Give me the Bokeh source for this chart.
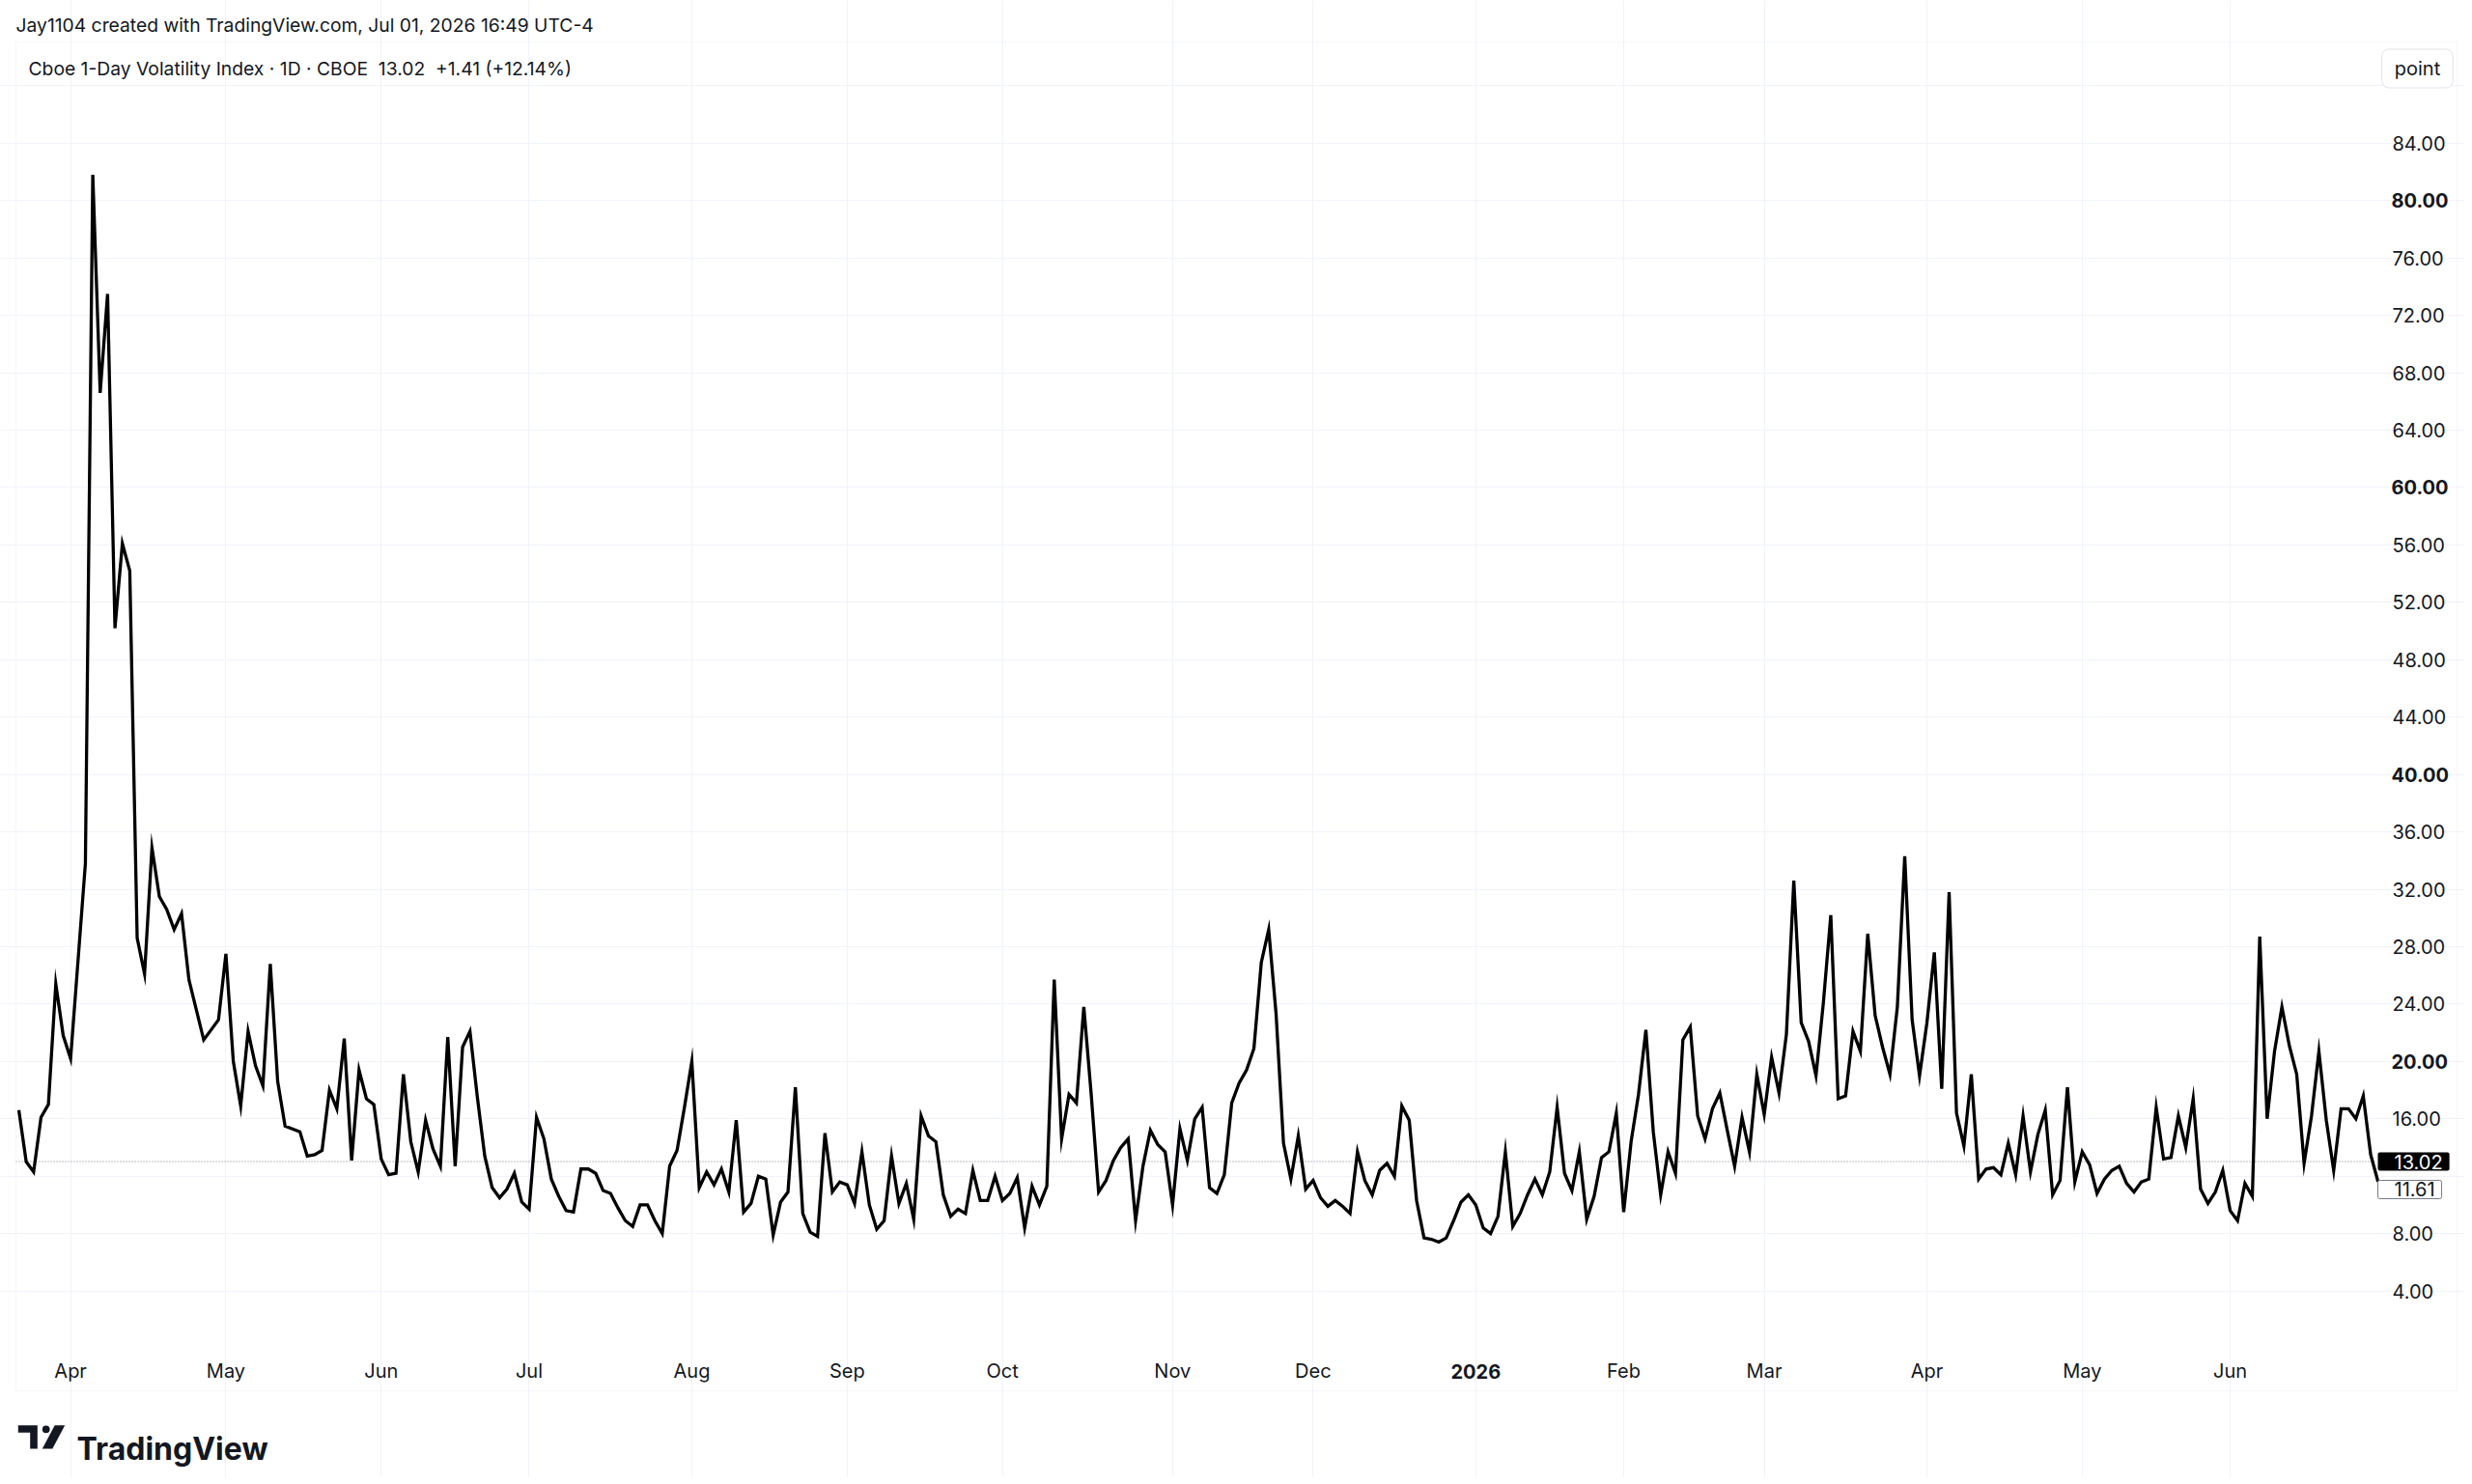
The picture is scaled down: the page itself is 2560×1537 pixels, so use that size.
from bokeh.plotting import figure
from bokeh.models import Range1d, FixedTicker, Label, BoxAnnotation, PolyAnnotation
from bokeh.embed import file_html
from bokeh.resources import INLINE

# ---- data ----
values = [
    16.6, 13.0, 12.3, 16.1, 17.0, 25.4, 21.8, 20.2, 27.0, 33.8,
    81.8, 66.6, 73.5, 50.2, 56.1, 54.2, 28.6, 26.1, 34.9, 31.5,
    30.6, 29.2, 30.3, 25.7, 23.6, 21.5, 22.2, 22.9, 27.5, 20.0,
    16.9, 22.1, 19.7, 18.3, 26.8, 18.6, 15.5, 15.3, 15.1, 13.4,
    13.5, 13.8, 18.0, 16.7, 21.6, 13.1, 19.4, 17.4, 17.0, 13.2,
    12.1, 12.2, 19.1, 14.4, 12.3, 15.9, 13.9, 12.7, 21.7, 12.7,
    21.0, 22.1, 17.5, 13.4, 11.2, 10.5, 11.1, 12.2, 10.2, 9.7,
    16.1, 14.6, 11.8, 10.6, 9.6, 9.5, 12.5, 12.5, 12.2, 11.0,
    10.8, 9.8, 8.9, 8.5, 10.0, 10.0, 8.9, 8.0, 12.7, 13.8,
    16.8, 20.0, 11.2, 12.3, 11.4, 12.5, 10.9, 15.9, 9.5, 10.1,
    12.0, 11.8, 7.9, 10.2, 10.9, 18.2, 9.4, 8.1, 7.8, 15.0,
    10.9, 11.6, 11.4, 10.1, 13.7, 10.0, 8.3, 8.9, 13.4, 10.1,
    11.5, 9.0, 16.2, 14.8, 14.4, 10.7, 9.2, 9.7, 9.4, 12.4,
    10.3, 10.3, 12.0, 10.3, 10.8, 11.9, 8.4, 11.3, 10.0, 11.3,
    25.7, 14.6, 17.7, 17.1, 23.8, 17.7, 10.9, 11.7, 13.1, 14.0,
    14.6, 8.9, 12.7, 15.2, 14.2, 13.7, 10.0, 15.3, 13.1, 16.0,
    16.8, 11.2, 10.8, 12.1, 17.1, 18.5, 19.4, 20.9, 26.9, 29.2,
    23.3, 14.3, 11.8, 14.8, 11.1, 11.7, 10.5, 9.9, 10.3, 9.9,
    9.4, 13.7, 11.7, 10.7, 12.4, 12.9, 12.0, 16.9, 15.9, 10.3,
    7.7, 7.6, 7.4, 7.7, 8.9, 10.2, 10.7, 10.0, 8.4, 8.0,
    9.2, 13.7, 8.5, 9.4, 10.7, 11.8, 10.7, 12.3, 16.8, 12.2,
    11.0, 13.7, 9.0, 10.6, 13.3, 13.7, 16.4, 9.5, 14.4, 17.7,
    22.2, 15.1, 10.7, 13.7, 12.2, 21.5, 22.4, 16.2, 14.6, 16.7,
    17.8, 15.2, 12.7, 16.1, 13.7, 19.1, 16.3, 20.3, 17.8, 21.9,
    32.6, 22.7, 21.4, 19.0, 24.1, 30.2, 17.4, 17.6, 22.1, 20.7,
    28.9, 23.2, 21.0, 19.1, 23.8, 34.3, 22.9, 19.0, 22.7, 27.6,
    18.1, 31.8, 16.4, 14.1, 19.1, 11.8, 12.5, 12.6, 12.1, 14.3,
    12.1, 16.2, 12.3, 14.9, 16.6, 10.7, 11.7, 18.2, 11.6, 13.7,
    12.8, 10.8, 11.8, 12.4, 12.7, 11.5, 10.9, 11.6, 11.8, 16.8,
    13.2, 13.3, 16.2, 14.0, 17.4, 11.1, 10.1, 10.9, 12.4, 9.6,
    8.9, 11.5, 10.6, 28.7, 16.0, 20.7, 23.8, 21.1, 19.1, 12.9,
    16.2, 20.7, 15.9, 12.4, 16.7, 16.7, 16.0, 17.6, 13.5, 11.61,
]
bar_index = list(range(len(values)))

month_ticks = [7, 28, 49, 69, 91, 112, 133, 156, 175, 197, 217, 236, 258, 279, 299]
month_labels = ["Apr", "May", "Jun", "Jul", "Aug", "Sep", "Oct", "Nov", "Dec",
                "2026", "Feb", "Mar", "Apr", "May", "Jun"]
bold_month_labels = ["2026"]

price_ticks = [4, 8, 12, 16, 20, 24, 28, 32, 36, 40, 44, 48, 52, 56, 60, 64,
               68, 72, 76, 80, 84, 88]
bold_price_ticks = [20, 40, 60, 80]
unlabeled_price_ticks = [12, 88]

last_close = 13.02
prev_close = 11.61

header_text = "Jay1104 created with TradingView.com, Jul 01, 2026 16:49 UTC-4"
legend_text = ("Cboe 1-Day Volatility Index \u00b7 1D \u00b7 CBOE\u00a0\u00a013.02"
               "\u00a0\u00a0+1.41 (+12.14%)")
unit_text = "point"
brand_text = "TradingView"

# ---- layout (pixels on the page) ----
CANVAS_W, CANVAS_H = 2552, 1530
PLOT_LEFT, PLOT_RIGHT, PLOT_TOP, PLOT_BOTTOM = 16, 2461, 43, 1396
PANE_RIGHT, PANE_BOTTOM = 2544, 1440
X_LO, X_HI = -0.392, 318.84
Y_LO, Y_HI = 0.0, 91.06

ux = (X_HI - X_LO) / (PLOT_RIGHT - PLOT_LEFT)
uy = (Y_HI - Y_LO) / (PLOT_BOTTOM - PLOT_TOP)
x_range = Range1d(X_LO - PLOT_LEFT * ux, X_HI + (CANVAS_W - PLOT_RIGHT) * ux)
y_range = Range1d(Y_LO - (CANVAS_H - PLOT_BOTTOM) * uy, Y_HI + PLOT_TOP * uy)


def sy(page_y):
    """page y (from top) -> screen y (from frame bottom)"""
    return CANVAS_H - page_y


FONT = "Inter"
TXT = "#131722"
GRID = "#f0f3fa"
FS = "20px"
FS_HEAD = "19.3px"

p = figure(frame_width=CANVAS_W, frame_height=CANVAS_H, output_backend="svg",
           toolbar_location=None, x_range=x_range, y_range=y_range,
           y_axis_location="right", min_border=0,
           min_border_left=0, min_border_right=0, min_border_top=0, min_border_bottom=0)
p.outline_line_color = None
p.background_fill_color = "white"
p.border_fill_color = "white"

# price scale
p.yaxis.fixed_location = X_HI
p.yaxis.ticker = FixedTicker(ticks=price_ticks)
p.yaxis.major_label_overrides = {
    t: ("" if (t in bold_price_ticks or t in unlabeled_price_ticks) else f"{t:.2f}")
    for t in price_ticks
}
p.yaxis.major_tick_line_color = None
p.yaxis.minor_tick_line_color = None
p.yaxis.axis_line_color = None
p.yaxis.major_label_standoff = 10
p.yaxis.major_label_text_font = FONT
p.yaxis.major_label_text_font_size = FS
p.yaxis.major_label_text_color = TXT

# time scale
p.xaxis.fixed_location = Y_LO
p.xaxis.ticker = FixedTicker(ticks=month_ticks)
p.xaxis.major_label_overrides = {
    t: ("" if lab in bold_month_labels else lab) for t, lab in zip(month_ticks, month_labels)
}
p.xaxis.major_tick_line_color = None
p.xaxis.minor_tick_line_color = None
p.xaxis.axis_line_color = None
p.xaxis.major_label_standoff = 5
p.xaxis.major_label_text_font = FONT
p.xaxis.major_label_text_font_size = FS
p.xaxis.major_label_text_color = TXT

p.xgrid.grid_line_color = GRID
p.ygrid.grid_line_color = GRID
p.xgrid.bounds = (Y_LO, Y_HI)
p.ygrid.bounds = (X_LO, X_HI)

# outer pane frame
p.add_layout(BoxAnnotation(left=PLOT_LEFT, right=PANE_RIGHT, top=sy(PLOT_TOP), bottom=sy(PANE_BOTTOM),
                           left_units="screen", right_units="screen",
                           top_units="screen", bottom_units="screen",
                           fill_alpha=0, line_color="#e0e3eb", line_width=1))

# last price line (dotted)
p.line([X_LO, X_HI], [last_close, last_close], line_color="#787b86",
       line_width=1, line_dash="1 2")

# series
p.line(bar_index, values, line_color="#000000", line_width=3.3, line_join="miter")

# bold tick labels
for t in bold_price_ticks:
    p.add_layout(Label(x=X_HI, y=t, x_offset=15, text=f"{t:.2f}",
                       text_font=FONT, text_font_size=FS, text_font_style="bold",
                       text_color=TXT, text_align="left", text_baseline="middle"))
for t, lab in zip(month_ticks, month_labels):
    if lab in bold_month_labels:
        p.add_layout(Label(x=t, y=Y_LO, y_offset=-16, text=lab,
                           text_font=FONT, text_font_size=FS, text_font_style="bold",
                           text_color=TXT, text_align="center", text_baseline="top"))

# last price labels
p.add_layout(Label(x=X_HI, y=last_close, x_offset=1,
                   text=f"{last_close:.2f}", text_font=FONT, text_font_size=FS,
                   text_color="white", text_align="left", text_baseline="middle",
                   background_fill_color="#000000",
                   padding=dict(left=17, right=7, top=2, bottom=2), border_radius=2))
p.add_layout(Label(x=X_HI, y=prev_close, x_offset=1, y_offset=-8,
                   text=f"{prev_close:.2f}", text_font=FONT, text_font_size=FS,
                   text_color=TXT, text_align="left", text_baseline="middle",
                   background_fill_color="white", border_line_color="#787b86",
                   padding=dict(left=17, right=7, top=2, bottom=2), border_radius=2))

# unit box
p.add_layout(Label(x=2503, y=sy(70.5), x_units="screen", y_units="screen", text=unit_text,
                   text_font=FONT, text_font_size=FS, text_color=TXT,
                   text_align="center", text_baseline="middle",
                   background_fill_color="white", border_line_color="#e0e3eb",
                   padding=dict(left=13, right=13, top=8, bottom=8), border_radius=7))

# header and legend
p.add_layout(Label(x=PLOT_LEFT, y=sy(25), x_units="screen", y_units="screen", text=header_text,
                   text_font=FONT, text_font_size=FS_HEAD, text_color=TXT,
                   text_align="left", text_baseline="middle"))
p.add_layout(Label(x=29, y=sy(70), x_units="screen", y_units="screen", text=legend_text,
                   text_font=FONT, text_font_size=FS_HEAD, text_color=TXT,
                   text_align="left", text_baseline="middle"))

# TradingView logo mark (decorative shapes in screen pixels)
LOGO = "#131722"
p.add_layout(PolyAnnotation(xs=[18.3, 38.3, 38.3, 30.7, 30.7, 18.3],
                            ys=[sy(1475.7), sy(1475.7), sy(1500), sy(1500), sy(1483.3), sy(1483.3)],
                            xs_units="screen", ys_units="screen",
                            fill_color=LOGO, fill_alpha=1, line_color=None))
p.add_layout(BoxAnnotation(left=43.3, right=51.1, top=sy(1475.9), bottom=sy(1483.7),
                           left_units="screen", right_units="screen",
                           top_units="screen", bottom_units="screen",
                           fill_color=LOGO, fill_alpha=1, line_color=None, border_radius=4))
p.add_layout(PolyAnnotation(xs=[56.2, 66.7, 53.8, 43.3],
                            ys=[sy(1475.7), sy(1475.7), sy(1500), sy(1500)],
                            xs_units="screen", ys_units="screen",
                            fill_color=LOGO, fill_alpha=1, line_color=None))
p.add_layout(Label(x=79, y=sy(1500), x_units="screen", y_units="screen", text=brand_text,
                   text_font=FONT, text_font_size="32px", text_font_style="bold",
                   text_color=LOGO, text_align="left", text_baseline="alphabetic"))

open("out.html", "w").write(file_html(p, INLINE))
